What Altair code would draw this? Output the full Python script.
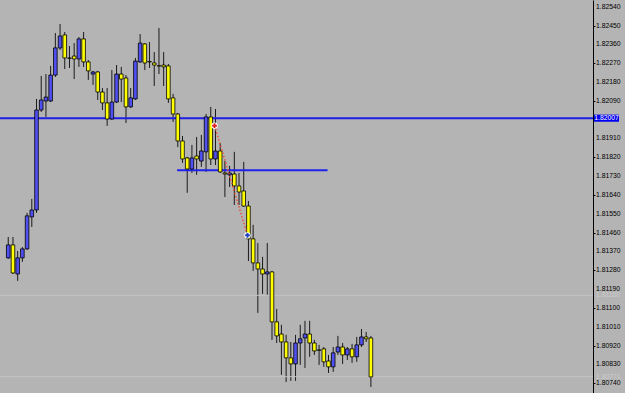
import altair as alt
import pandas as pd

# ---- candle data (bar index 0..77) ----
opens = [
    1.81339, 1.81401, 1.81262, 1.81339, 1.81382, 1.81535, 1.81568, 1.82046, 1.82089, 1.82089,
    1.82213, 1.82343, 1.82405, 1.82295, 1.82304, 1.82290, 1.82386, 1.82276, 1.82218, 1.82228,
    1.82132, 1.82080, 1.82003, 1.82084, 1.82218, 1.82199, 1.82061, 1.82099, 1.82276, 1.82362,
    1.82278, 1.82271, 1.82258, 1.82261, 1.82257, 1.82104, 1.82027, 1.81898, 1.81817, 1.81764,
    1.81826, 1.81802, 1.81846, 1.82013, 1.81812, 1.81850, 1.81745, 1.81736, 1.81740, 1.81683,
    1.81659, 1.81587, 1.81430, 1.81315, 1.81286, 1.81262, 1.81272, 1.81033, 1.80975, 1.80937,
    1.80861, 1.80832, 1.80932, 1.80956, 1.80975, 1.80932, 1.80899, 1.80904, 1.80846, 1.80818,
    1.80889, 1.80913, 1.80875, 1.80904, 1.80866, 1.80923, 1.80961, 1.80956]
highs = [
    1.81439, 1.81439, 1.81372, 1.81391, 1.81554, 1.81621, 1.82099, 1.82209, 1.82218, 1.82257,
    1.82414, 1.82457, 1.82419, 1.82352, 1.82366, 1.82395, 1.82419, 1.82285, 1.82233, 1.82233,
    1.82151, 1.82151, 1.82237, 1.82261, 1.82252, 1.82213, 1.82151, 1.82295, 1.82409, 1.82366,
    1.82371, 1.82323, 1.82438, 1.82323, 1.82266, 1.82123, 1.82032, 1.81922, 1.81822, 1.81879,
    1.81917, 1.81927, 1.82027, 1.82061, 1.82051, 1.81888, 1.81802, 1.81779, 1.81846, 1.81745,
    1.81798, 1.81611, 1.81497, 1.81410, 1.81344, 1.81410, 1.81277, 1.81095, 1.81019, 1.80971,
    1.80937, 1.80971, 1.81019, 1.81038, 1.81038, 1.80947, 1.80923, 1.80913, 1.80875, 1.80913,
    1.80966, 1.80932, 1.80913, 1.80928, 1.80961, 1.80999, 1.80985, 1.80966]
lows = [
    1.81334, 1.81262, 1.81229, 1.81320, 1.81377, 1.81487, 1.81554, 1.82037, 1.82013, 1.82084,
    1.82204, 1.82333, 1.82242, 1.82247, 1.82194, 1.82252, 1.82252, 1.82190, 1.82166, 1.82094,
    1.82046, 1.81970, 1.81998, 1.82080, 1.82084, 1.81984, 1.82056, 1.82094, 1.82271, 1.82237,
    1.82247, 1.82161, 1.82218, 1.82161, 1.82080, 1.81989, 1.81869, 1.81793, 1.81650, 1.81745,
    1.81736, 1.81774, 1.81750, 1.81783, 1.81783, 1.81745, 1.81630, 1.81678, 1.81592, 1.81592,
    1.81583, 1.81324, 1.81277, 1.81076, 1.81167, 1.81162, 1.80947, 1.80932, 1.80780, 1.80746,
    1.80751, 1.80751, 1.80827, 1.80813, 1.80866, 1.80875, 1.80827, 1.80818, 1.80789, 1.80794,
    1.80875, 1.80832, 1.80851, 1.80837, 1.80842, 1.80913, 1.80937, 1.80722]
closes = [
    1.81401, 1.81267, 1.81339, 1.81382, 1.81540, 1.81568, 1.82046, 1.82094, 1.82108, 1.82213,
    1.82343, 1.82400, 1.82295, 1.82293, 1.82290, 1.82386, 1.82276, 1.82233, 1.82228, 1.82132,
    1.82080, 1.82003, 1.82084, 1.82218, 1.82194, 1.82061, 1.82104, 1.82280, 1.82366, 1.82271,
    1.82276, 1.82261, 1.82256, 1.82252, 1.82099, 1.82027, 1.81898, 1.81812, 1.81764, 1.81817,
    1.81812, 1.81850, 1.82013, 1.81812, 1.81850, 1.81750, 1.81740, 1.81745, 1.81683, 1.81654,
    1.81587, 1.81430, 1.81315, 1.81286, 1.81262, 1.81272, 1.81033, 1.80966, 1.80937, 1.80861,
    1.80832, 1.80932, 1.80952, 1.80975, 1.80932, 1.80894, 1.80897, 1.80842, 1.80818, 1.80885,
    1.80913, 1.80875, 1.80904, 1.80866, 1.80923, 1.80961, 1.80952, 1.80770]

# ---- price axis tick labels ----
tick_values = [1.82540, 1.82450, 1.82360, 1.82270, 1.82180, 1.82090, 1.81910, 1.81820,
               1.81730, 1.81640, 1.81550, 1.81460, 1.81370, 1.81280, 1.81190, 1.81100,
               1.81010, 1.80920, 1.80830, 1.80740]

# ---- horizontal levels / objects ----
level_price = [1.82007]
faint_prices = [1.81160, 1.80771]
short_line_start = [35.85]
short_line_end = [67.8]
short_line_price = [1.81758]
trade_bar = [43.8, 50.8]
trade_price = [1.81971, 1.81447]
trade_kind = ["entry", "exit"]

df = pd.DataFrame({"i": list(range(len(opens))), "open": opens, "high": highs,
                   "low": lows, "close": closes})
df["dir"] = ["up" if c >= o else "down" for o, c in zip(opens, closes)]

x_scale = alt.Scale(domain=[-0.69, 123.1], nice=False, zero=False)
y_scale = alt.Scale(domain=[1.80693, 1.82572], nice=False, zero=False)
FONT = "Liberation Sans"

base = alt.Chart(df)

wicks = base.mark_rule(color="#1a1a1a", strokeWidth=1).encode(
    x=alt.X("i:Q", scale=x_scale, axis=None),
    y=alt.Y("low:Q", scale=y_scale, title=None,
            axis=alt.Axis(orient="right", values=tick_values, labels=False,
                          tickSize=2, tickColor="black",
                          domainColor="black", domainWidth=1, grid=False)),
    y2="high:Q",
)

bodies = base.mark_bar(size=3.6, stroke="black", strokeWidth=0.8).encode(
    x=alt.X("i:Q", scale=x_scale),
    y=alt.Y("open:Q", scale=y_scale),
    y2="close:Q",
    color=alt.Color("dir:N", scale=alt.Scale(domain=["up", "down"],
                                             range=["#5050F2", "#FFFF00"]), legend=None),
)

tick_df = pd.DataFrame({"p": tick_values, "label": [f"{v:.5f}" for v in tick_values]})
tick_labels = alt.Chart(tick_df).mark_text(
    align="left", baseline="middle", font=FONT, fontSize=6.8, color="black").encode(
    x=alt.value(596), y=alt.Y("p:Q", scale=y_scale), text="label:N")

faint_df = pd.DataFrame({"p": faint_prices,
                         "label": [f"{v:.5f}" for v in faint_prices]})
faint_lines = alt.Chart(faint_df).mark_rule(color="#C4C4C4", strokeWidth=1).encode(
    y=alt.Y("p:Q", scale=y_scale))
faint_labels = alt.Chart(faint_df).mark_text(
    align="left", baseline="middle", font=FONT, fontSize=6.8, color="#CCCCCC").encode(
    x=alt.value(596), y=alt.Y("p:Q", scale=y_scale), text="label:N")

level_df = pd.DataFrame({"p": level_price,
                         "label": [f"{v:.5f}" for v in level_price],
                         "top": [v + 0.00017 for v in level_price],
                         "bot": [v - 0.00017 for v in level_price]})
level_line = alt.Chart(level_df).mark_rule(color="#1E1EE6", strokeWidth=2).encode(
    y=alt.Y("p:Q", scale=y_scale))
level_box = alt.Chart(level_df).mark_rect(color="#0000F0").encode(
    x=alt.value(594), x2=alt.value(619),
    y=alt.Y("top:Q", scale=y_scale), y2="bot:Q")
level_text = alt.Chart(level_df).mark_text(
    align="center", baseline="middle", font=FONT, fontSize=6.8, color="white").encode(
    x=alt.value(606.5), y=alt.Y("p:Q", scale=y_scale), text="label:N")

short_df = pd.DataFrame({"a": short_line_start, "b": short_line_end, "p": short_line_price})
short_line = alt.Chart(short_df).mark_rule(color="#2020EE", strokeWidth=2).encode(
    x=alt.X("a:Q", scale=x_scale), x2="b:Q", y=alt.Y("p:Q", scale=y_scale))

trade_df = pd.DataFrame({"i": trade_bar, "p": trade_price, "kind": trade_kind})
trade_line = alt.Chart(trade_df).mark_line(
    color="#E85030", strokeWidth=1.5, strokeDash=[1.5, 2]).encode(
    x=alt.X("i:Q", scale=x_scale), y=alt.Y("p:Q", scale=y_scale))
trade_halo = alt.Chart(trade_df).mark_point(
    shape="circle", filled=True, size=40, color="white", opacity=1).encode(
    x=alt.X("i:Q", scale=x_scale), y=alt.Y("p:Q", scale=y_scale))
trade_marks = alt.Chart(trade_df).mark_point(
    shape="cross", filled=True, size=22, opacity=1).encode(
    x=alt.X("i:Q", scale=x_scale), y=alt.Y("p:Q", scale=y_scale),
    color=alt.Color("kind:N", scale=alt.Scale(domain=["entry", "exit"],
                                              range=["#E02020", "#2040C0"]), legend=None))

chart = alt.layer(
    wicks, faint_lines, faint_labels, tick_labels, level_line, short_line, bodies,
    trade_line, trade_halo, trade_marks, level_box, level_text,
).resolve_scale(color="independent").properties(
    width=593, height=393,
    autosize=alt.AutoSizeParams(type="none"),
    padding={"left": 0, "top": 0, "right": 32, "bottom": 0},
    background="#B4B4B4",
).configure_view(stroke=None)

chart.save("out.html", embed_options={"renderer": "svg", "actions": False})
